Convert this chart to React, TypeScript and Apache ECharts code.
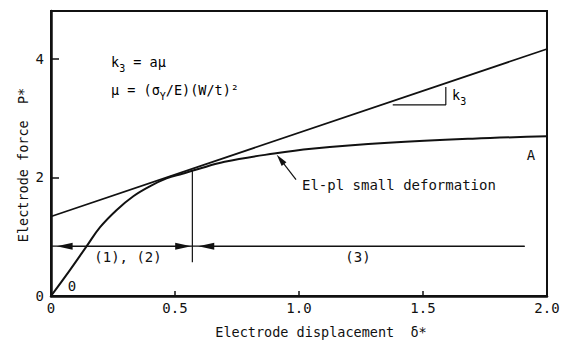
import { useEffect, useRef } from "react";
import * as echarts from "echarts";

const FONT = "DejaVu Sans Mono";
const INK = "#111";

// Force–displacement curve "A"
const displacement = [0, 0.077, 0.144, 0.198, 0.265, 0.332, 0.4, 0.466, 0.53, 0.587, 0.7, 0.9, 1.05, 1.36, 1.7, 2.0];
const force = [0, 0.44, 0.84, 1.16, 1.45, 1.68, 1.85, 1.98, 2.06, 2.13, 2.26, 2.4, 2.48, 2.58, 2.65, 2.69];

// Straight asymptote of slope k3
const asymptoteX = [0, 2.0];
const asymptoteY = [1.34, 4.16];

// Region boundary between (1),(2) and (3)
const boundaryX = 0.57;
const boundaryY = [0.57, 2.11];

// Region bar
const regionLevel = 0.84;
const regionEnd = 1.91;

// k3 slope marker
const slopeX = [1.378, 1.592, 1.592];
const slopeY = [3.22, 3.22, 3.52];

const xTickLabels: Record<string, string> = { "0": "0", "0.5": "0.5", "1": "1.0", "1.5": "1.5", "2": "2.0" };
const yTickLabels: Record<string, string> = { "0": "0", "2": "2", "4": "4" };

const pairs = (xs: number[], ys: number[]) => xs.map((x, i) => [x, ys[i]]);

const arrowLine = (from: number[], to: number[], symbols: string[], size: number[]) => [
  {
    coord: from,
    symbol: symbols[0],
    symbolSize: size,
    lineStyle: { color: INK, width: 1.2, type: "solid" },
    label: { show: false },
  },
  { coord: to, symbol: symbols[1], symbolSize: size },
];

export default function App() {
  const ref = useRef<HTMLDivElement>(null);

  useEffect(() => {
    if (!ref.current) return;
    const chart = echarts.init(ref.current, undefined, { renderer: "svg" });

    const txt = (x: number, y: number, text: string, extra: any = {}) => ({
      type: "text",
      x,
      y,
      silent: true,
      style: {
        text,
        fontFamily: FONT,
        fontSize: 13.5,
        fill: INK,
        align: "left",
        verticalAlign: "middle",
        ...extra,
      },
    });

    const richBase = {
      t: { fontFamily: FONT, fontSize: 13.5, lineHeight: 22, verticalAlign: "middle", color: INK },
      s: { fontFamily: FONT, fontSize: 10, lineHeight: 10, verticalAlign: "bottom", color: INK },
    };

    chart.setOption({
      animation: false,
      backgroundColor: "#fff",
      grid: {
        left: 51,
        right: 24,
        top: 11,
        bottom: 47,
        show: true,
        borderColor: INK,
        borderWidth: 2,
      },
      xAxis: {
        type: "value",
        min: 0,
        max: 2,
        interval: 0.5,
        axisLine: { show: true, lineStyle: { color: INK, width: 2.5 } },
        axisTick: { show: true, inside: true, length: 5, lineStyle: { color: INK, width: 1.5 } },
        splitLine: { show: false },
        axisLabel: {
          margin: 5,
          fontFamily: FONT,
          fontSize: 14,
          color: INK,
          formatter: (v: number) => xTickLabels[String(v)] ?? "",
        },
      },
      yAxis: {
        type: "value",
        min: 0,
        max: 4.8,
        interval: 2,
        axisLine: { show: true, lineStyle: { color: INK, width: 2.5 } },
        axisTick: { show: true, inside: true, length: 8, lineStyle: { color: INK, width: 1.5 } },
        splitLine: { show: false },
        axisLabel: {
          margin: 7,
          fontFamily: FONT,
          fontSize: 14,
          color: INK,
          showMaxLabel: false,
          formatter: (v: number) => yTickLabels[String(v)] ?? "",
        },
      },
      series: [
        {
          name: "asymptote",
          type: "line",
          data: pairs(asymptoteX, asymptoteY),
          showSymbol: false,
          silent: true,
          lineStyle: { color: INK, width: 1.7 },
          markLine: {
            silent: true,
            animation: false,
            label: { show: false },
            emphasis: { disabled: true },
            lineStyle: { color: INK, width: 1.2, type: "solid" },
            data: [
              arrowLine([0.055, regionLevel], [0.533, regionLevel], ["triangle", "triangle"], [7, 16]),
              arrowLine([0.626, regionLevel], [regionEnd, regionLevel], ["triangle", "none"], [7, 16]),
              arrowLine([0.988, 1.96], [0.925, 2.3], ["none", "triangle"], [6, 12]),
            ],
          },
        },
        {
          name: "A",
          type: "line",
          data: pairs(displacement, force),
          smooth: 0.4,
          showSymbol: false,
          silent: true,
          lineStyle: { color: INK, width: 2 },
        },
        {
          name: "region bar",
          type: "line",
          data: [
            [0, regionLevel],
            [regionEnd, regionLevel],
          ],
          showSymbol: false,
          silent: true,
          lineStyle: { color: INK, width: 1.2 },
        },
        {
          name: "boundary",
          type: "line",
          data: boundaryY.map((y) => [boundaryX, y]),
          showSymbol: false,
          silent: true,
          lineStyle: { color: INK, width: 1.2 },
        },
        {
          name: "slope",
          type: "line",
          data: pairs(slopeX, slopeY),
          showSymbol: false,
          silent: true,
          lineStyle: { color: INK, width: 1.2 },
        },
      ],
      graphic: [
        {
          type: "text",
          x: 111,
          y: 62,
          silent: true,
          style: {
            text: "{t|k}{s|3}{t| = aμ}",
            rich: richBase,
            verticalAlign: "middle",
            align: "left",
          },
        },
        {
          type: "text",
          x: 111,
          y: 90,
          silent: true,
          style: {
            text: "{t|μ = (σ}{s|Y}{t|/E)(W/t)²}",
            rich: richBase,
            verticalAlign: "middle",
            align: "left",
          },
        },
        {
          type: "text",
          x: 452,
          y: 95,
          silent: true,
          style: {
            text: "{t|k}{s|3}",
            rich: richBase,
            verticalAlign: "middle",
            align: "left",
          },
        },
        txt(302, 185, "El-pl small deformation", { fontSize: 14 }),
        txt(531, 155, "A", { fontSize: 14, align: "center" }),
        txt(128, 257, "(1), (2)", { fontSize: 14, align: "center" }),
        txt(358, 257, "(3)", { fontSize: 14, align: "center" }),
        txt(72, 286, "0", { fontSize: 14, align: "center" }),
        txt(321, 332, "Electrode displacement  δ*", { fontSize: 13.5, align: "center" }),
        {
          type: "text",
          x: 23,
          y: 165,
          rotation: Math.PI / 2,
          silent: true,
          style: {
            text: "Electrode force  P*",
            fontFamily: FONT,
            fontSize: 13.5,
            fill: INK,
            align: "center",
            verticalAlign: "middle",
          },
        },
      ],
    });

    return () => chart.dispose();
  }, []);

  return (
    <div
      ref={ref}
      style={{ position: "fixed", left: 0, top: 0, width: 571, height: 343, background: "#fff" }}
    />
  );
}
